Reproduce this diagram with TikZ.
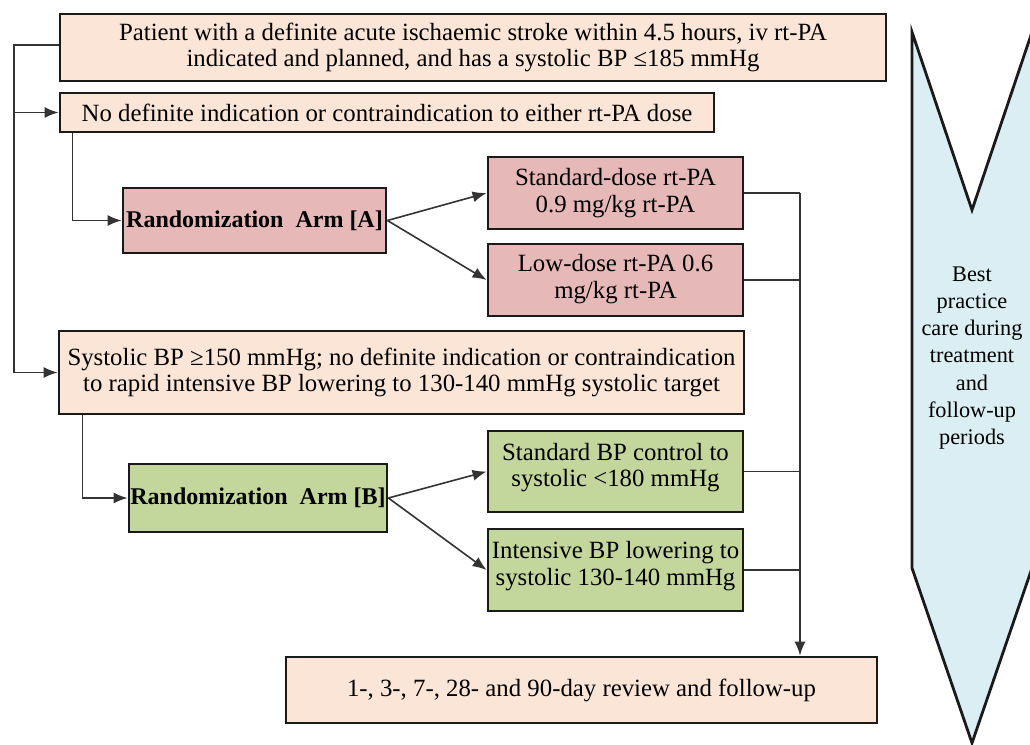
\documentclass[tikz,border=0pt]{standalone}
\usepackage{fontspec}
\setmainfont{Liberation Serif}
\usetikzlibrary{arrows.meta,calc}
\definecolor{peach}{HTML}{FBE5D6}
\definecolor{pinkbox}{HTML}{E6B9B8}
\definecolor{greenbox}{HTML}{C3D69B}
\definecolor{bluechev}{HTML}{DAEEF3}
\definecolor{edge}{HTML}{1A1A1A}
\definecolor{wire}{HTML}{333333}
\tikzset{
  box/.style={draw=edge, line width=2.8pt, inner sep=0pt, align=center,
    font=\fontsize{24.8}{26.5}\selectfont},
  peachbox/.style={box, fill=peach},
  pinkb/.style={box, fill=pinkbox},
  greenb/.style={box, fill=greenbox},
  randbox/.style={font=\fontsize{24}{26}\selectfont\bfseries},
  conn/.style={draw=wire, line width=1.6pt},
  arr/.style={conn, -{Latex[length=14pt,width=11pt]}},
}
\begin{document}
\begin{tikzpicture}[x=1pt,y=-1pt]
\useasboundingbox (0,0) rectangle (1030,744);
% chevron
\draw[fill=bluechev, draw=edge, line width=2.8pt, line join=miter]
  (912,32) -- (972,210) -- (1032,32) -- (1032,568) -- (972,743) -- (912,568) -- cycle;
\node[font=\fontsize{22.3}{27.3}\selectfont, align=center] (chev) at (972,358)
  {Best\\practice\\care during\\treatment\\and\\follow-up\\periods};
% boxes
\node[peachbox, minimum width=826pt, minimum height=67pt] (top) at (473,47.5)
  {Patient with a definite acute ischaemic stroke within 4.5 hours, iv rt-PA\\indicated and planned, and has a systolic BP ≤185 mmHg};
\node[peachbox, minimum width=654pt, minimum height=39pt] (nod) at (387,112.5)
  {No definite indication or contraindication to either rt-PA dose};
\node[pinkb, randbox, minimum width=263pt, minimum height=65pt] (randA) at (254.5,220.5)
  {Randomization\ \ Arm [A]};
\node[pinkb, minimum width=255pt, minimum height=72pt] (std) at (615.5,193)
  {Standard-dose rt-PA\\0.9 mg/kg rt-PA};
\node[pinkb, minimum width=255pt, minimum height=72pt] (low) at (615.5,280)
  {Low-dose rt-PA 0.6\\mg/kg rt-PA\\[-19pt]};
\node[peachbox, minimum width=685pt, minimum height=83pt] (sbp) at (401.5,372.5)
  {Systolic BP ≥150 mmHg; no definite indication or contraindication\\to rapid intensive BP lowering to 130-140 mmHg systolic target};
\node[greenb, randbox, minimum width=258pt, minimum height=68pt] (randB) at (258,498)
  {Randomization\ \ Arm [B]};
\node[greenb, minimum width=255pt, minimum height=81pt] (stdbp) at (615.5,471.5)
  {Standard BP control to\\systolic <180 mmHg\\[-13pt]};
\node[greenb, minimum width=255pt, minimum height=82pt] (intbp) at (615.5,570)
  {Intensive BP lowering to\\systolic 130-140 mmHg\\[-13pt]};
\node[peachbox, minimum width=591pt, minimum height=66pt] (fu) at (581.5,690)
  {1-, 3-, 7-, 28- and 90-day review and follow-up};
% connectors
\coordinate (tk) at (14,45);
\draw[arr] (top.west |- tk) -- (tk) |- (sbp.west);
\draw[arr] (tk |- nod.west) -- (nod.west);
\draw[arr] ($(nod.south west)+(14,0)$) |- (randA.west);
\draw[arr] (randA.east) -- (std.west);
\draw[arr] (randA.east) -- (low.west);
\draw[arr] ($(sbp.south west)+(25,0)$) |- (randB.west);
\draw[arr] (randB.east) -- (stdbp.west);
\draw[arr] (randB.east) -- (intbp.west);
\coordinate (col) at (800,193);
\draw[conn] (std.east) -- (col);
\draw[conn] (low.east) -- (col |- low.east);
\draw[conn] (stdbp.east) -- (col |- stdbp.east);
\draw[conn] (intbp.east) -- (col |- intbp.east);
\draw[arr] (col) -- (col |- fu.north);
\end{tikzpicture}
\end{document}
